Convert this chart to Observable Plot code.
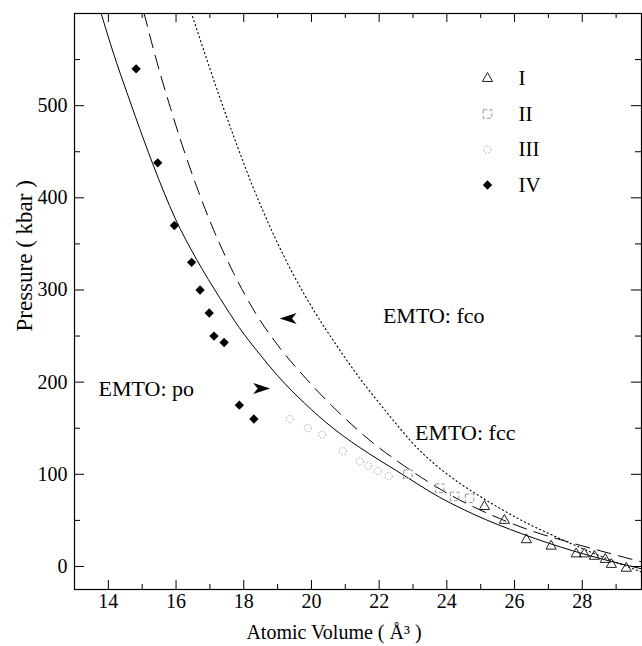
<!DOCTYPE html>
<html><head><meta charset="utf-8">
<script src="https://cdn.jsdelivr.net/npm/d3@7"></script>
<script src="https://cdn.jsdelivr.net/npm/@observablehq/plot@0.6"></script>
<style>body{margin:0;background:#fff;} #chart svg{display:block;}</style>
</head><body><div id="chart"></div>
<script>
// ---- curves (EMTO) : atomic volume (Å^3) vs pressure (kbar)
const poV  = [13.78, 14.15, 14.55, 14.80, 15.31, 15.97, 16.61, 17.30, 17.87, 18.50, 19.00, 19.80, 20.64, 21.72, 22.51, 23.79, 24.77, 26.25, 27.72, 28.80, 29.75];
const poP  = [601, 557, 514, 488, 437, 378, 333, 291, 259, 229, 207, 177, 150, 122, 104, 75, 57, 35, 17, 6, -2.5];
const dashV = [15.05, 15.43, 15.83, 16.22, 16.61, 17.10, 17.69, 18.38, 19.07, 19.86, 20.64, 21.04, 21.92, 22.51, 24.18, 25.56, 26.55, 27.55, 28.73, 29.75];
const dashP = [601, 548, 498, 453, 412, 366, 319, 273, 237, 203, 173, 159, 131, 115, 76, 52, 38, 27, 15, 5];
const dotV = [16.45, 16.91, 17.30, 17.79, 18.28, 18.87, 19.46, 20.05, 20.74, 21.39, 22.03, 22.52, 23.01, 23.61, 24.20, 24.98, 25.57, 26.26, 27.05, 27.94, 28.82, 29.75];
const dotP = [601, 550, 508, 458, 411, 361, 317, 279, 240, 206, 176, 154, 133, 112, 95, 76, 63, 49, 35, 20.5, 7, -6];

// ---- experimental phases
const phaseIV_V = [14.82, 15.46, 15.95, 16.46, 16.71, 16.98, 17.12, 17.42, 17.87, 18.30];
const phaseIV_P = [540, 438, 370, 330, 300, 275, 250, 243, 175, 160];
const phaseIII_V = [19.36, 19.89, 20.31, 20.93, 21.43, 21.67, 21.96, 22.28];
const phaseIII_P = [160, 150, 143, 125, 114, 109, 103.5, 98];
const phaseII_V = [22.85, 23.79, 24.23, 24.67];
const phaseII_P = [100, 85, 76, 74];
const phaseI_V = [25.11, 25.70, 26.35, 27.08, 27.82, 28.06, 28.36, 28.68, 28.86, 29.30];
const phaseI_P = [65, 50, 29, 22, 13.6, 13.6, 11, 7.6, 2.2, -2];

// ---- text
const legendLabels = ["I", "II", "III", "IV"];
const annText = ["EMTO: po", "EMTO: fco", "EMTO: fcc"];
const annV = [13.71, 22.11, 23.06];
const annP = [193, 272, 145];
const arrowV = [18.53, 19.31];
const arrowP = [193, 269];
const arrowDir = [0, 180];
const xMajor = [14, 16, 18, 20, 22, 24, 26, 28];
const xMinor = [13, 15, 17, 19, 21, 23, 25, 27, 29];
const yMajor = [0, 100, 200, 300, 400, 500];
const yMinor = [50, 150, 250, 350, 450, 550];
const xTitle = "Atomic Volume ( Å³ )";
const yTitle = "Pressure ( kbar )";

const zip = (a, b) => a.map((v, i) => ({v, p: b[i]}));
const po = zip(poV, poP), dashc = zip(dashV, dashP), dotc = zip(dotV, dotP);
const p4 = zip(phaseIV_V, phaseIV_P), p3 = zip(phaseIII_V, phaseIII_P), p2 = zip(phaseII_V, phaseII_P), p1 = zip(phaseI_V, phaseI_P);
const ann = annText.map((t, i) => ({t, v: annV[i], p: annP[i]}));
const arrows = arrowV.map((v, i) => ({v, p: arrowP[i], r: arrowDir[i]}));

const W = 642, H = 646, mL = 74, mR = 1, mT = 13, mB = 57;
const plotW = W - mL - mR, plotH = H - mT - mB;
const FONT = "'Liberation Serif', 'Times New Roman', serif";

const arrowSymbol = {draw(ctx) { ctx.moveTo(8.5, 0); ctx.lineTo(-8.5, -5.5); ctx.lineTo(-4, 0); ctx.lineTo(-8.5, 5.5); ctx.closePath(); }};

const styles = [
  {symbol: "triangle", r: 3.8, stroke: "#222", fill: "none", strokeWidth: 1},
  {symbol: "square", r: 4.8, stroke: "#999", fill: "none", strokeWidth: 1, strokeDasharray: "4,2"},
  {symbol: "circle", r: 3.6, stroke: "#aaa", fill: "none", strokeWidth: 1, strokeDasharray: "1.5,1.5"},
  {symbol: "diamond2", r: 4.2, stroke: "none", fill: "black"}
];

const legendMarks = legendLabels.flatMap((lab, i) => [
  Plot.dot([lab], {frameAnchor: "top-left", dx: 413, dy: 65 + i * 35.5, ...styles[i]}),
  Plot.text([lab], {frameAnchor: "top-left", dx: 444, dy: 65 + i * 35.5, text: d => d, textAnchor: "start", lineAnchor: "middle", fontSize: 21, fill: "black"})
]);

const chart = Plot.plot({
  width: W, height: H,
  marginLeft: mL, marginRight: mR, marginTop: mT, marginBottom: mB,
  style: {fontFamily: FONT, fontSize: "20px", color: "black", background: "white"},
  x: {domain: [13, 29.75]},
  y: {domain: [-25, 600]},
  marks: [
    Plot.frame({stroke: "black", strokeWidth: 1.2}),
    Plot.tickX(xMajor, {x: d => d, insetTop: plotH - 9, stroke: "black"}),
    Plot.tickX(xMinor, {x: d => d, insetTop: plotH - 5, stroke: "black"}),
    Plot.tickX(xMajor, {x: d => d, insetBottom: plotH - 9, stroke: "black"}),
    Plot.tickX(xMinor, {x: d => d, insetBottom: plotH - 5, stroke: "black"}),
    Plot.tickY(yMajor, {y: d => d, insetRight: plotW - 10, stroke: "black"}),
    Plot.tickY(yMinor, {y: d => d, insetRight: plotW - 6, stroke: "black"}),
    Plot.tickY(yMajor, {y: d => d, insetLeft: plotW - 10, stroke: "black"}),
    Plot.tickY(yMinor, {y: d => d, insetLeft: plotW - 6, stroke: "black"}),
    Plot.axisX({ticks: xMajor, tickSize: 0, tickPadding: 4, label: null, fontSize: 20}),
    Plot.axisY({ticks: yMajor, tickSize: 0, tickPadding: 7, label: null, fontSize: 20}),
    Plot.text([xTitle], {frameAnchor: "bottom", dx: -24, dy: 43, text: d => d, fontSize: 20, lineAnchor: "middle"}),
    Plot.text([yTitle], {frameAnchor: "left", dx: -50, dy: 30, rotate: -90, text: d => d, fontSize: 23, lineAnchor: "middle"}),
    Plot.line(po, {x: "v", y: "p", stroke: "black", strokeWidth: 1, curve: "monotone-x", clip: true}),
    Plot.line(dashc, {x: "v", y: "p", stroke: "black", strokeWidth: 1, strokeDasharray: "14,8", curve: "monotone-x", clip: true}),
    Plot.line(dotc, {x: "v", y: "p", stroke: "black", strokeWidth: 1.1, strokeDasharray: "1.2,3", curve: "monotone-x", clip: true}),
    Plot.dot(p1, {x: "v", y: "p", ...styles[0]}),
    Plot.dot(p2, {x: "v", y: "p", ...styles[1]}),
    Plot.dot(p3, {x: "v", y: "p", ...styles[2]}),
    Plot.dot(p4, {x: "v", y: "p", ...styles[3]}),
    Plot.text(ann, {x: "v", y: "p", text: "t", textAnchor: "start", lineAnchor: "middle", fontSize: 22, fill: "black"}),
    Plot.dot(arrows, {x: "v", y: "p", rotate: "r", symbol: arrowSymbol, fill: "black", stroke: "none"}),
    ...legendMarks
  ]
});
document.getElementById("chart").appendChild(chart);
</script>
</body></html>
